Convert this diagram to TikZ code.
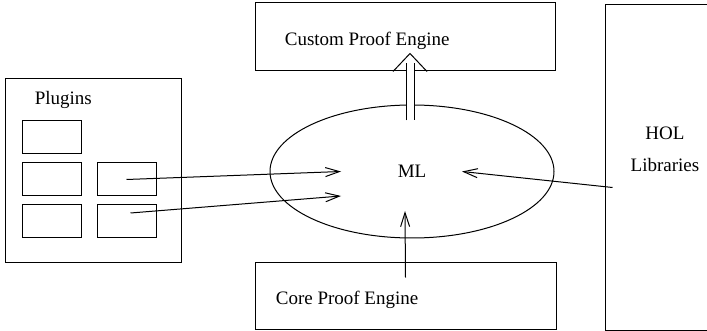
\documentclass[tikz,border=0pt]{standalone}
\usepackage{fontspec}
\setmainfont{Liberation Serif}
\usetikzlibrary{arrows.meta,calc,shapes.geometric}

\tikzset{
  box/.style={draw,rectangle,inner sep=0pt},
  arr/.style={-{Straight Barb[length=14pt,width=9pt]}},
}

\begin{document}
\begin{tikzpicture}[x=1pt,y=-1pt,line width=1pt,font=\fontsize{19}{23}\selectfont]
        \clip (0,0) rectangle (707,331);

        % engines above and below, ML in the middle
        \node[box,minimum width=300pt,minimum height=68pt] (custom) at (405,37) {};
        \node[anchor=base west] (customtxt) at (281,46) {Custom Proof Engine};
        \node[box,minimum width=301pt,minimum height=66pt] (core) at (405.5,296) {};
        \node[anchor=base west] (coretxt) at (272,305) {Core Proof Engine};
        \node[draw,ellipse,inner sep=0pt,minimum width=284pt,minimum height=133pt] (ml) at (412,171.5) {ML};

        % libraries, cut off at the right
        \node[box,minimum width=120pt,minimum height=325pt] (hol) at (665,167.5) {};
        \node[align=center,font=\fontsize{19}{32}\selectfont] (holtxt) at (665,149) {HOL\\Libraries};

        % plugin box with its slots
        \node[box,minimum width=176pt,minimum height=184pt] (plugins) at (93,171) {};
        \node[anchor=base west] (pluginstxt) at (31,105) {Plugins};
        \foreach \n/\x/\y in {p11/51.5/137.5,p21/51.5/179.5,p22/126.5/179.5,p31/51.5/221,p32/126.5/221}
          \node[box,minimum width=59pt,minimum height=33pt] (\n) at (\x,\y) {};

        \draw[arr] (p22.center) -- ($(ml.center)+(-71,0)$);
        \draw[arr] ($(p32.center)+(4,-8)$) -- ($(ml.center)+(-71,24.5)$);
        \draw[arr] ($(hol.west)+(8,20)$) -- ($(ml.center)+(50,0)$);
        \draw[arr] ($(core.north)+(0,15)$) -- ($(ml.center)+(-7,39.5)$);

        % double arrow up to the custom engine
        \coordinate (dbl) at ($(ml.north)+(-2,16)$);
        \draw[double distance=7pt] (dbl) -- ($(custom.south)+(5,-8)$);
        \draw (custom.south) ++(-12,0) -- ++(17,-18) -- ++(17,18);
      \end{tikzpicture}
\end{document}
